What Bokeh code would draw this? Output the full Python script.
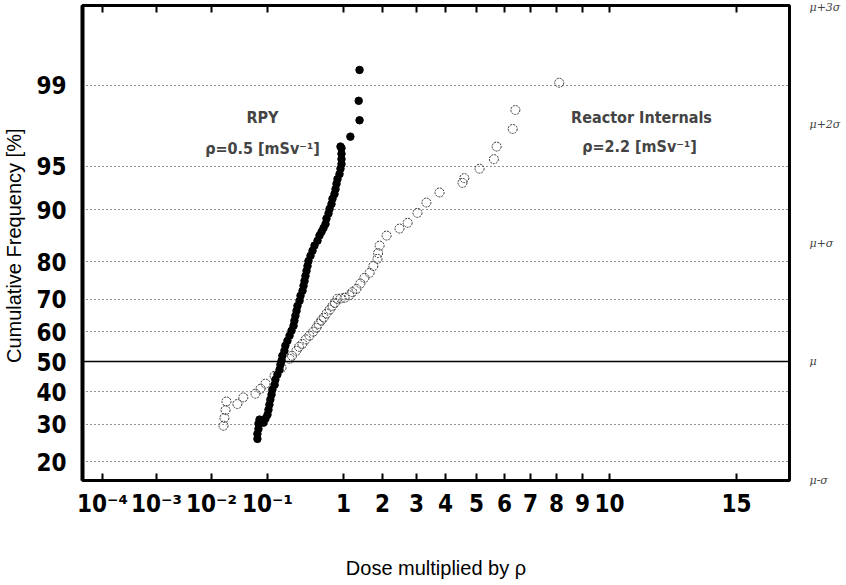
import numpy as np
from statistics import NormalDist
from bokeh.plotting import figure
from bokeh.models import (Range1d, FixedTicker, LinearAxis, CustomJSTickFormatter,
                          Grid, Label, ColumnDataSource)
from bokeh.embed import file_html
from bokeh.resources import INLINE

# ---------------- axis definitions ----------------
x_tick_doses = [1e-4, 1e-3, 1e-2, 1e-1, 1, 2, 3, 4, 5, 6, 7, 8, 9, 10, 15]
x_tick_labels = ["10⁻⁴", "10⁻³", "10⁻²", "10⁻¹", "1", "2", "3", "4", "5",
                 "6", "7", "8", "9", "10", "15"]
# position of each tick along the (non-uniform) dose axis
x_tick_pos = [20, 74, 129, 185, 261, 300, 334, 363, 394, 422, 448, 474, 500, 527, 654]

y_tick_pct = [20, 30, 40, 50, 60, 70, 80, 90, 95, 99]
y_tick_labels = ["20", "30", "40", "50", "60", "70", "80", "90", "95", "99"]

sigma_levels = [-1, 0, 1, 2, 3]
sigma_labels = ["μ-σ", "μ", "μ+σ", "μ+2σ", "μ+3σ"]

# ---------------- data ----------------
rpy_dose = [0.066, 0.066, 0.069, 0.069, 0.072,
            0.085, 0.092, 0.100, 0.103, 0.106, 0.109, 0.113, 0.116, 0.124, 0.127,
            0.135, 0.144, 0.148, 0.153, 0.157, 0.167, 0.172, 0.183, 0.195, 0.207,
            0.220, 0.226, 0.233, 0.241, 0.248, 0.264, 0.272, 0.289, 0.298, 0.307,
            0.316, 0.326, 0.336, 0.346, 0.368, 0.391, 0.415, 0.455, 0.483, 0.514,
            0.546, 0.580, 0.597, 0.635, 0.655, 0.695, 0.716, 0.761, 0.785, 0.809,
            0.834, 0.886, 0.913, 0.941, 0.941, 0.941, 0.941, 0.913,
            1.13, 1.33, 1.31, 1.33]
rpy_pct = [25.8, 27.2, 28.6, 30.1, 31.3,
           30.4, 31.6, 32.8, 34.3, 35.9, 37.5, 39.1, 40.7, 42.3, 44.0,
           45.7, 47.3, 49.0, 50.3, 52.0, 53.7, 55.4, 57.0, 58.7, 60.3,
           61.9, 63.5, 65.1, 66.6, 68.1, 69.6, 71.1, 72.5, 73.9, 75.2,
           76.5, 77.8, 79.0, 80.2, 81.4, 82.5, 83.6, 84.6, 85.6, 86.3,
           87.0, 87.7, 88.6, 89.4, 90.1, 90.8, 91.5, 92.1, 92.7, 93.3,
           93.8, 94.3, 94.8, 95.2, 95.6, 96.0, 96.4, 96.5,
           97.1, 97.9, 98.6, 99.3]

ri_dose = [0.0164, 0.017, 0.0178, 0.0185, 0.029, 0.037, 0.061, 0.075, 0.092,
           0.124, 0.153, 0.195, 0.21, 0.24, 0.26, 0.288, 0.32, 0.357, 0.40,
           0.44, 0.47, 0.51, 0.55, 0.60, 0.66, 0.716, 0.77, 0.83, 0.92,
           1.02, 1.11, 1.17, 1.26, 1.35, 1.45, 1.59, 1.70, 1.83, 1.85, 1.90,
           2.1, 2.45, 2.70, 3.03, 3.31, 3.77, 4.52, 4.58, 5.1, 5.6, 5.7,
           6.3, 6.4, 8.1]
ri_pct = [29.5, 31.8, 34.2, 36.9, 36.1, 38.2, 39.4, 41.0, 42.7,
          45.3, 48.0, 51.0, 52.0, 53.7, 55.0, 56.0, 57.5, 58.7, 60.0,
          61.3, 62.5, 63.6, 64.5, 65.8, 67.0, 68.1, 69.0, 70.2, 70.3,
          70.5, 71.2, 72.1, 73.0, 74.5, 76.0, 77.3, 79.0, 80.7, 82.0, 83.6,
          85.6, 86.9, 87.9, 89.5, 91.0, 92.3, 93.4, 93.9, 94.8, 95.6, 96.5,
          97.5, 98.3, 99.06]

# ---------------- scale transforms ----------------
nd = NormalDist()
log_ticks = np.log10(x_tick_doses)


def to_x(doses):
    return list(np.interp(np.log10(doses), log_ticks, x_tick_pos))


def to_z(pcts):
    return [nd.inv_cdf(v / 100.0) for v in pcts]


y_tick_z = to_z(y_tick_pct)

rpy_src = ColumnDataSource(dict(x=to_x(rpy_dose), y=to_z(rpy_pct)))
ri_src = ColumnDataSource(dict(x=to_x(ri_dose), y=to_z(ri_pct)))

# ---------------- figure ----------------
p = figure(frame_width=707, frame_height=475,
           x_range=Range1d(0, 707), y_range=Range1d(-1, 3),
           output_backend="svg", toolbar_location=None,
           min_border_left=80, min_border_right=50, min_border_top=5,
           min_border_bottom=97, background_fill_color="white",
           border_fill_color="white")

p.outline_line_color = "black"
p.outline_line_width = 3

label_fmt_code = """
let best = 0; let bd = 1e12;
for (let i = 0; i < pos.length; i++) {
  const d = Math.abs(pos[i] - tick);
  if (d < bd) { bd = d; best = i; }
}
return labs[best];
"""

NARROW = "DejaVu Sans Condensed"

# bottom axis
xa = p.xaxis[0]
xa.ticker = FixedTicker(ticks=x_tick_pos)
xa.formatter = CustomJSTickFormatter(args=dict(pos=x_tick_pos, labs=x_tick_labels),
                                     code=label_fmt_code)
xa.axis_line_width = 3
xa.axis_line_color = "black"
xa.major_tick_in = 7
xa.major_tick_out = 0
xa.major_tick_line_width = 2
xa.minor_tick_line_color = None
xa.major_label_standoff = 9
xa.major_label_text_font = NARROW
xa.major_label_text_font_style = "bold"
xa.major_label_text_font_size = "24px"
xa.major_label_text_color = "black"
xa.axis_label = "Dose multiplied by ρ"
xa.axis_label_text_font = "Liberation Sans"
xa.axis_label_text_font_style = "normal"
xa.axis_label_text_font_size = "20px"
xa.axis_label_text_color = "black"
xa.axis_label_standoff = 36

# left axis
ya = p.yaxis[0]
ya.ticker = FixedTicker(ticks=y_tick_z)
ya.formatter = CustomJSTickFormatter(args=dict(pos=y_tick_z, labs=y_tick_labels),
                                     code=label_fmt_code)
ya.axis_line_width = 4
ya.axis_line_color = "black"
ya.major_tick_in = 0
ya.major_tick_out = 0
ya.minor_tick_line_color = None
ya.major_label_standoff = 16
ya.major_label_text_font = NARROW
ya.major_label_text_font_style = "bold"
ya.major_label_text_font_size = "24px"
ya.major_label_text_color = "black"
ya.axis_label = "Cumulative  Frequency [%]"
ya.axis_label_text_font = "Liberation Sans"
ya.axis_label_text_font_style = "normal"
ya.axis_label_text_font_size = "20px"
ya.axis_label_text_color = "black"
ya.axis_label_standoff = 8

# top axis (ticks only)
top = LinearAxis(ticker=FixedTicker(ticks=x_tick_pos),
                 formatter=CustomJSTickFormatter(code="return ''"),
                 axis_line_width=3, axis_line_color="black",
                 major_tick_in=7, major_tick_out=0, major_tick_line_width=2,
                 major_tick_line_color="black",
                 minor_tick_line_color=None, major_label_text_font_size="1px",
                 major_label_standoff=0)
p.add_layout(top, "above")

# right axis with sigma labels
right = LinearAxis(ticker=FixedTicker(ticks=sigma_levels),
                   formatter=CustomJSTickFormatter(args=dict(pos=sigma_levels, labs=sigma_labels),
                                                   code=label_fmt_code),
                   axis_line_color=None, major_tick_line_color=None,
                   minor_tick_line_color=None, major_label_standoff=14,
                   major_label_text_font="DejaVu Serif",
                   major_label_text_font_style="italic",
                   major_label_text_font_size="11px",
                   major_label_text_color="#444444")
p.add_layout(right, "right")

# grids
p.xgrid.visible = False
p.ygrid.ticker = FixedTicker(ticks=[z for z, v in zip(y_tick_z, y_tick_pct) if v != 50])
p.ygrid.grid_line_color = "#222222"
p.ygrid.grid_line_dash = "1 3"
p.ygrid.grid_line_width = 1.2
mid_grid = Grid(dimension=1, ticker=FixedTicker(ticks=[z for z, v in zip(y_tick_z, y_tick_pct) if v == 50]),
                grid_line_color="black", grid_line_width=1.5)
p.add_layout(mid_grid, "center")

# data
p.scatter("x", "y", source=ri_src, size=9, marker="circle",
          fill_color=None, line_color="#333333", line_width=1, line_dash="2 1")
p.scatter("x", "y", source=rpy_src, size=7.5, marker="circle",
          fill_color="black", line_color="black")

# annotations
ann_font = NARROW
p.add_layout(Label(x=180, y=2.06, text="RPY", text_align="center", text_baseline="middle",
                   text_font=ann_font, text_font_style="bold", text_font_size="16px"))
p.add_layout(Label(x=180, y=1.80, text="ρ=0.5 [mSv⁻¹]", text_align="center",
                   text_baseline="middle", text_font=ann_font, text_font_style="bold",
                   text_font_size="16px"))
p.add_layout(Label(x=559, y=2.06, text="Reactor Internals", text_align="center",
                   text_baseline="middle", text_font=ann_font, text_font_style="bold",
                   text_font_size="16px"))
p.add_layout(Label(x=557, y=1.81, text="ρ=2.2 [mSv⁻¹]", text_align="center",
                   text_baseline="middle", text_font=ann_font, text_font_style="bold",
                   text_font_size="16px"))

open("out.html", "w").write(file_html(p, INLINE))
